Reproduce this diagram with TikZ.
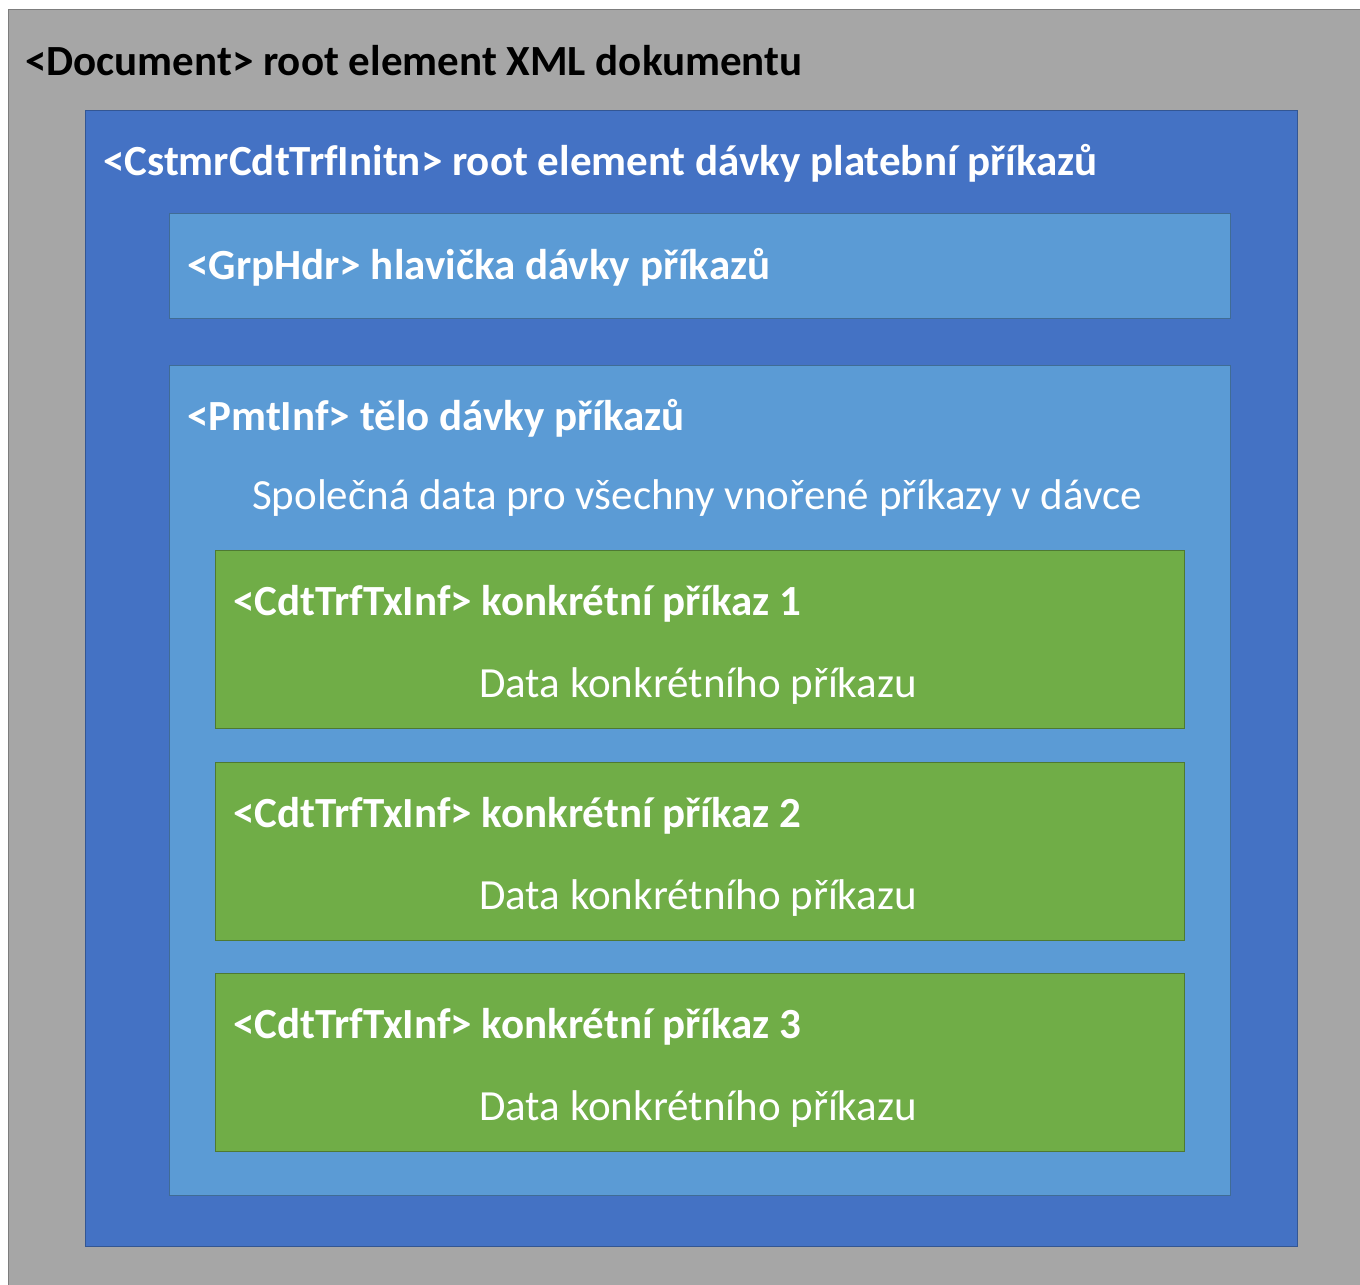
\documentclass[tikz,border=0pt]{standalone}
\usepackage{fontspec}
\setmainfont{Carlito}
\definecolor{docgray}{HTML}{A6A6A6}
\definecolor{rootblue}{HTML}{4472C4}
\definecolor{partblue}{HTML}{5B9BD5}
\definecolor{txgreen}{HTML}{70AD47}

\begin{document}
\begin{tikzpicture}
    [x=1pt, y=-1pt,
    box/.style={draw, line width=1pt, anchor=north west, inner sep=0pt},
    tag/.style={anchor=base west, inner sep=0pt, text=white,
        font=\fontsize{43}{50}\selectfont\bfseries},
    note/.style={anchor=base, inner sep=0pt, text=white,
        font=\fontsize{43}{50}\selectfont}]

    \useasboundingbox (0,0) rectangle (1360,1285);
    \fill[white] (0,0) rectangle (1360,1285);

    % nested boxes
    \node[box, fill=docgray, draw=docgray!75!black,
        minimum width=1400pt, minimum height=1320pt] (doc) at (8,9) {};
    \node[box, fill=rootblue, draw=rootblue!75!black,
        minimum width=1212pt, minimum height=1136pt] (root) at (85,110) {};
    \node[box, fill=partblue, draw=partblue!70!black,
        minimum width=1061pt, minimum height=105pt] (hdr) at (169,213) {};
    \node[box, fill=partblue, draw=partblue!70!black,
        minimum width=1061pt, minimum height=830pt] (pmt) at (169,365) {};

    % labels
    \node[tag, text=black] (doclbl) at (25,75) {<Document> root element XML dokumentu};
    \node[tag] (rootlbl) at (103,175) {<CstmrCdtTrfInitn> root element dávky platební příkazů};
    \node[tag] (hdrlbl) at (187,279) {<GrpHdr> hlavička dávky příkazů};
    \node[tag] (pmtlbl) at (187,430) {<PmtInf> tělo dávky příkazů};
    \node[note] (pmtnote) at (697,509) {Společná data pro všechny vnořené příkazy v dávce};

    % transactions
    \foreach \i/\y in {1/550,2/762,3/973} {
        \node[box, fill=txgreen, draw=txgreen!70!black,
            minimum width=969pt, minimum height=178pt] (tx\i) at (215,\y) {};
        \node[tag] (txlbl\i) at (233,\y+65) {<CdtTrfTxInf> konkrétní příkaz \i};
        \node[note] (txnote\i) at (698,\y+147) {Data konkrétního příkazu};
    }

\end{tikzpicture}
\end{document}
